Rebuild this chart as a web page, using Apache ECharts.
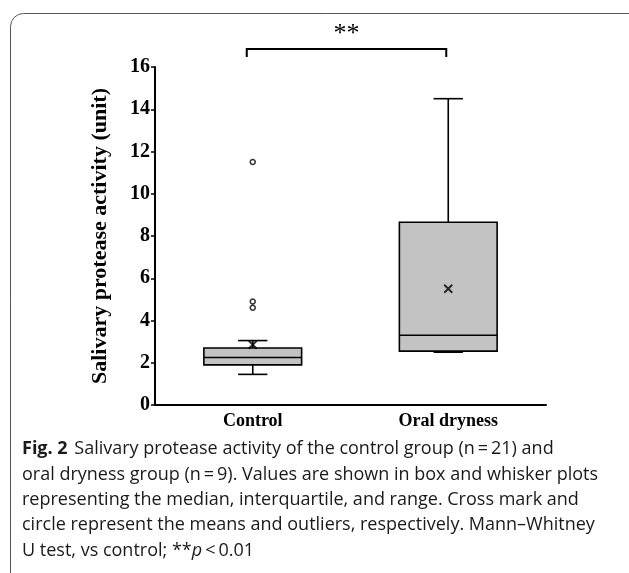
<!DOCTYPE html>
<html><head><meta charset="utf-8">
<script src="https://cdn.jsdelivr.net/npm/echarts@6/dist/echarts.min.js"></script>
<style>html,body{margin:0;padding:0;background:#fff}#c{width:629px;height:573px}</style>
</head><body><div id="c"></div>
<script>
// ---- data ----
const categories = ['Control', 'Oral dryness'];
// [lower whisker, Q1, median, Q3, upper whisker]
const controlBox = [1.45, 1.9, 2.25, 2.7, 3.05];
const drynessBox = [2.5, 2.55, 3.3, 8.65, 14.5];
const means = [2.85, 5.5];
const controlOutliers = [11.5, 4.9, 4.6];
const yTicks = [0, 2, 4, 6, 8, 10, 12, 14, 16];
const captionLines = [
  'Salivary protease activity of the control group (n\u2009=\u200921) and',
  'oral dryness group (n\u2009=\u20099). Values are shown in box and whisker plots',
  'representing the median, interquartile, and range. Cross mark and',
  'circle represent the means and outliers, respectively. Mann\u2013Whitney',
  'U test, vs control; **'
];

const chart = echarts.init(document.getElementById('c'), null, {renderer: 'canvas'});
const serif = '"Liberation Serif", "DejaVu Serif", serif';
const sans = '"Open Sans", "Noto Sans", sans-serif';

const boxData = [[0].concat(controlBox), [1].concat(drynessBox)];
const outlierData = controlOutliers.map(v => [0, v]);
const meanData = means.map((v, i) => [i, v]);

function renderBox(params, api) {
  const x = api.value(0);
  const lo = api.coord([x, api.value(1)]);
  const q1 = api.coord([x, api.value(2)]);
  const md = api.coord([x, api.value(3)]);
  const q3 = api.coord([x, api.value(4)]);
  const hi = api.coord([x, api.value(5)]);
  const bw = api.size([1, 0])[0] * 0.5;
  const cw = api.size([1, 0])[0] * 0.15;
  const cx = lo[0];
  const st = {stroke: '#000', lineWidth: 1.6, fill: null};
  return {
    type: 'group',
    children: [
      {type: 'line', shape: {x1: cx, y1: q3[1], x2: cx, y2: hi[1]}, style: st},
      {type: 'line', shape: {x1: cx, y1: q1[1], x2: cx, y2: lo[1]}, style: st},
      {type: 'line', shape: {x1: cx - cw / 2, y1: hi[1], x2: cx + cw / 2, y2: hi[1]}, style: st},
      {type: 'line', shape: {x1: cx - cw / 2, y1: lo[1], x2: cx + cw / 2, y2: lo[1]}, style: st},
      {type: 'rect', shape: {x: cx - bw / 2, y: q3[1], width: bw, height: q1[1] - q3[1]},
        style: {fill: '#c3c3c3', stroke: '#000', lineWidth: 1.6}},
      {type: 'line', shape: {x1: cx - bw / 2, y1: md[1], x2: cx + bw / 2, y2: md[1]}, style: st}
    ]
  };
}

chart.setOption({
  animation: false,
  backgroundColor: '#fff',
  grid: {left: 155, right: 83, top: 67, bottom: 168, containLabel: false},
  xAxis: {
    type: 'category', data: categories, boundaryGap: true,
    axisLine: {lineStyle: {color: '#000', width: 2}},
    axisTick: {show: false},
    axisLabel: {color: '#000', fontFamily: serif, fontWeight: 'bold', fontSize: 18, margin: 7},
    splitLine: {show: false}
  },
  yAxis: {
    type: 'value', min: yTicks[0], max: yTicks[yTicks.length - 1], interval: 2,
    name: 'Salivary protease activity (unit)', nameLocation: 'middle', nameGap: 44,
    nameTextStyle: {color: '#000', fontFamily: serif, fontWeight: 'bold', fontSize: 22},
    axisLine: {show: true, lineStyle: {color: '#000', width: 2}},
    axisTick: {show: true, inside: false, length: 4, lineStyle: {color: '#000', width: 1.5}},
    axisLabel: {color: '#000', fontFamily: serif, fontWeight: 'bold', fontSize: 20, margin: 5},
    splitLine: {show: false}
  },
  series: [
    {type: 'custom', renderItem: renderBox, data: boxData, encode: {x: 0, y: [1, 2, 3, 4, 5]}, z: 2},
    {type: 'scatter', data: outlierData, symbol: 'circle', symbolSize: 5,
      itemStyle: {color: '#fff', borderColor: '#000', borderWidth: 1.5}, z: 3},
    {type: 'scatter', data: meanData, symbol: 'path://M0,0L10,10M10,0L0,10', symbolSize: 8,
      itemStyle: {color: 'none', borderColor: '#000', borderWidth: 2}, z: 4}
  ]
});

// annotations: bracket + significance, positioned through the axes
const p0 = chart.convertToPixel({gridIndex: 0}, [0, 16]);
const p1 = chart.convertToPixel({gridIndex: 0}, [1, 16]);
const bx0 = p0[0] - 6, bx1 = p1[0] - 2, by = 49;
const graphics = [
  {type: 'rect', shape: {x: 10.5, y: 13.5, width: 700, height: 600, r: 13},
    style: {fill: null, stroke: '#555', lineWidth: 1}, z: 0},
  {type: 'polyline', shape: {points: [[bx0, 57], [bx0, by], [bx1, by], [bx1, 57]]},
    style: {stroke: '#000', lineWidth: 2, fill: null}},
  {type: 'text', x: (bx0 + bx1) / 2, y: 34,
    style: {text: '**', fill: '#000', font: '26px ' + serif, textAlign: 'center', textVerticalAlign: 'middle'}}
];
const lineY = [449, 475, 500, 525, 551];
captionLines.forEach((t, i) => {
  let rich;
  if (i === 0) {
    rich = {text: '{b|Fig. 2}  {n|' + t + '}'};
  } else if (i === captionLines.length - 1) {
    rich = {text: '{n|' + t + '}{i|p}{n|\u2009<\u20090.01}'};
  } else {
    rich = {text: '{n|' + t + '}'};
  }
  graphics.push({type: 'text', x: 22, y: lineY[i], style: Object.assign(rich, {
    textVerticalAlign: 'middle', textAlign: 'left',
    rich: {
      b: {fontFamily: sans, fontWeight: 'bold', fontSize: 18, fill: '#1a1a1a'},
      n: {fontFamily: sans, fontSize: 18, fill: '#1a1a1a'},
      i: {fontFamily: sans, fontStyle: 'italic', fontSize: 18, fill: '#1a1a1a'}
    }
  })});
});
chart.setOption({graphic: graphics});
</script></body></html>
